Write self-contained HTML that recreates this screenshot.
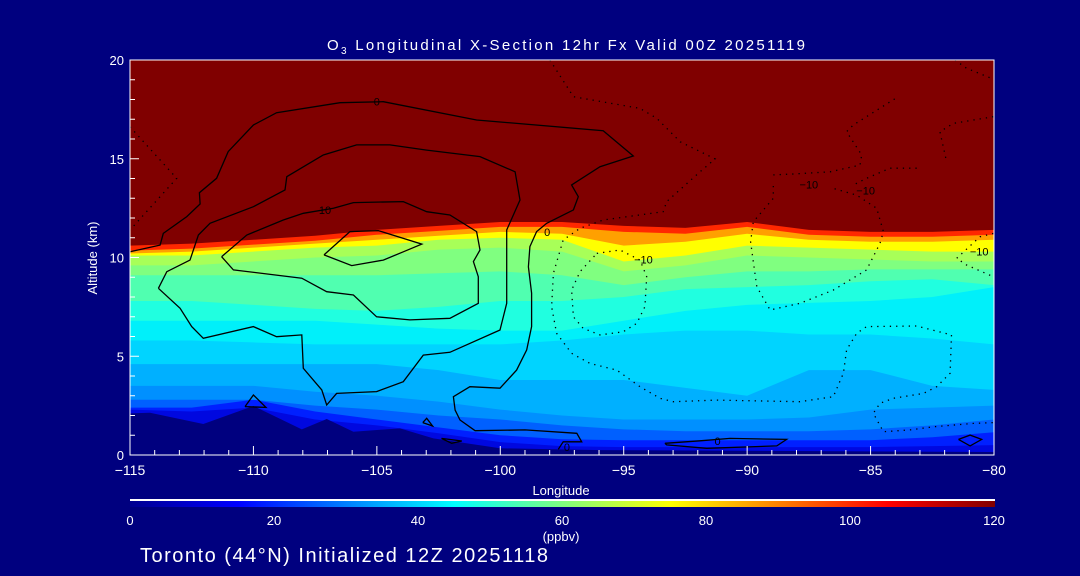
<!DOCTYPE html>
<html><head><meta charset="utf-8"><style>
html,body{margin:0;padding:0;background:#00007f;width:1080px;height:576px;overflow:hidden}
svg{display:block}
text{font-family:"Liberation Sans",sans-serif;fill:#fff}
</style></head><body>
<svg id="chart" width="1080" height="576" viewBox="0 0 1080 576" xmlns="http://www.w3.org/2000/svg">
<rect x="0" y="0" width="1080" height="576" fill="#00007f"/>
<text x="327" y="50" font-size="15" textLength="478" lengthAdjust="spacing">O<tspan font-size="10" dy="4">3</tspan><tspan dy="-4"> Longitudinal X-Section 12hr  Fx Valid 00Z 20251119</tspan></text>
<g id="plot"></g>
<g id="axes"></g>
<text x="561" y="495" font-size="13" text-anchor="middle">Longitude</text>
<text transform="translate(97,258) rotate(-90)" font-size="13" text-anchor="middle">Altitude (km)</text>
<defs><linearGradient id="jet" x1="0" x2="1" y1="0" y2="0">
<stop offset="0" stop-color="#00008f"/><stop offset="0.125" stop-color="#0000ff"/><stop offset="0.375" stop-color="#00ffff"/><stop offset="0.625" stop-color="#ffff00"/><stop offset="0.875" stop-color="#ff0000"/><stop offset="1" stop-color="#800000"/>
</linearGradient></defs>
<rect x="130" y="499" width="865" height="2" fill="#fff"/>
<rect x="130" y="501" width="865" height="6" fill="url(#jet)"/>
<g id="cbticks"></g>
<text x="561" y="541" font-size="13" text-anchor="middle">(ppbv)</text>
<text x="140" y="562" font-size="20" textLength="408" lengthAdjust="spacing">Toronto (44°N) Initialized 12Z 20251118</text>
</svg>
<script>
const lonGrid=[-115,-112.5,-110,-107.5,-105,-102.5,-100,-97.5,-95,-92.5,-90,-87.5,-85,-82.5,-80];
const levelValues=[20,25,30,35,40,45,50,55,60,65,70,80,90,110];
const levelColors=["#0020ff","#0060ff","#0090ff","#00b0ff","#00d4ff","#00f0fa","#20ffe0","#50ffb0","#80ff80","#a8ff58","#ffff00","#ffa000","#ff2800","#800000"];
const h20=[2.3,2.2,2.4,1.8,1.5,1.1,0.65,0.45,0.4,0.4,0.4,0.4,0.4,0.45,0.5];
const h25=[2.4,2.4,2.8,2.2,1.8,1.4,1.0,0.8,0.75,0.75,0.75,0.75,0.75,0.9,1.15];
const h30=[2.8,2.8,2.8,2.5,2.3,2.0,1.8,1.5,1.3,1.2,1.2,1.2,1.3,1.5,1.8];
const h35=[3.5,3.5,3.5,3.2,3.0,2.7,2.3,2.0,1.8,1.8,1.8,1.9,2.3,2.4,2.5];
const h40=[4.6,4.6,4.6,4.6,4.6,4.3,3.8,3.8,3.8,3.4,3.0,4.3,4.3,3.5,3.3];
const h45=[5.8,5.8,5.7,5.6,5.6,5.6,5.6,5.8,6.1,6.3,6.3,6.1,6.1,5.9,5.6];
const h50=[6.8,6.8,6.8,6.8,6.6,6.4,6.3,6.3,6.8,7.3,7.6,7.7,7.8,8.0,8.5];
const h55=[7.8,7.8,7.6,7.4,7.3,7.5,7.8,7.8,8.0,8.4,8.5,8.6,8.8,8.9,8.6];
const h60=[9.1,9.1,9.1,9.1,9.1,9.2,9.3,9.1,8.6,9.0,9.3,9.3,9.4,9.4,9.4];
const h65=[9.6,9.6,9.8,10.0,10.1,10.4,10.5,10.3,9.3,9.6,10.1,10.0,9.9,9.8,9.8];
const h70=[10.1,10.1,10.3,10.5,10.6,10.9,11.0,10.9,9.8,10.1,10.6,10.5,10.4,10.3,10.3];
const h80=[10.2,10.3,10.5,10.7,10.9,11.1,11.3,11.2,10.6,10.8,11.2,10.9,10.8,10.8,10.9];
const h90=[10.35,10.45,10.65,10.85,11.15,11.35,11.55,11.55,11.3,11.2,11.55,11.15,11.05,11.05,11.15];
const h110=[10.6,10.7,10.9,11.1,11.4,11.6,11.8,11.8,11.6,11.5,11.8,11.4,11.3,11.3,11.4];
const levelHeights=[h20,h25,h30,h35,h40,h45,h50,h55,h60,h65,h70,h80,h90,h110];
const terrainLon=[-115,-114.19,-112.03,-110.0,-108.04,-107.03,-105.95,-104.06,-102.71,-100.01,-95.96,-80];
const terrainAlt=[2.11,2.14,1.57,2.48,1.30,1.82,1.18,1.35,0.84,0.34,0.25,0.15];
const contour0Outer=[[-115,10.29],[-113.78,10.63],[-113.65,11.22],[-112.7,12.07],[-112.16,12.71],[-112.19,13.28],[-111.49,14.01],[-111.02,15.36],[-110.0,16.71],[-109.06,17.33],[-106.49,17.84],[-104.74,17.89],[-100.96,16.96],[-95.83,16.42],[-94.61,15.14],[-95.96,14.6],[-97.11,13.67],[-96.84,13.08],[-97.04,12.41],[-98.12,11.73],[-98.53,11.31],[-98.8,10.55],[-98.86,9.53],[-98.73,8.19],[-98.73,6.5],[-98.93,5.32],[-99.34,4.3],[-100.01,3.38],[-101.23,3.46],[-101.9,2.95],[-101.83,2.28],[-101.63,1.77],[-101.02,1.23],[-99.0,1.27],[-96.9,1.1],[-96.7,0.67],[-97.45,0.67],[-97.58,0.42],[-97.65,0.29]];
const contour5=[[-113.85,8.44],[-112.97,7.43],[-112.5,6.5],[-112.03,5.91],[-110.0,6.5],[-109.06,5.99],[-108.04,6.08],[-107.98,4.39],[-107.23,3.29],[-107.03,2.53],[-106.63,3.12],[-105.01,3.21],[-103.93,3.71],[-103.12,5.06],[-102.04,5.2],[-100.01,6.33],[-99.74,7.68],[-99.74,11.39],[-99.2,12.91],[-99.4,14.34],[-100.82,15.11],[-102.98,15.44],[-104.47,15.7],[-105.82,15.7],[-107.17,15.19],[-108.65,14.09],[-108.72,13.42],[-110.0,12.57],[-111.76,11.73],[-112.23,11.14],[-112.57,9.87],[-113.51,9.28],[-113.85,8.44]];
const contour10=[[-111.29,10.04],[-110.81,9.37],[-108.04,8.95],[-107.03,8.27],[-105.95,8.1],[-105.01,7.0],[-103.66,6.84],[-102.04,6.92],[-100.89,7.68],[-100.89,9.03],[-101.09,9.79],[-100.82,10.38],[-100.96,11.31],[-102.04,12.15],[-102.98,12.32],[-103.93,12.83],[-105.95,12.78],[-106.76,12.49],[-107.98,12.24],[-108.79,11.9],[-110.27,11.14],[-111.29,10.04]];
const contour20=[[-107.14,10.13],[-106.09,11.31],[-104.94,11.36],[-103.18,10.68],[-103.93,10.29],[-104.74,9.87],[-106.02,9.59],[-107.14,10.13]];
const loopA=[[-110.34,2.45],[-110.0,3.04],[-109.49,2.41],[-110.34,2.45]];
const loopB=[[-103.14,1.64],[-102.98,1.86],[-102.74,1.47],[-103.14,1.64]];
const loopC=[[-102.38,0.84],[-101.56,0.71],[-101.97,0.59],[-102.38,0.84]];
const loopD=[[-93.33,0.59],[-91.91,0.72],[-90.69,0.84],[-88.4,0.79],[-88.8,0.46],[-91.64,0.34],[-93.26,0.51],[-93.33,0.59]];
const loopE=[[-81.44,0.79],[-80.97,1.01],[-80.5,0.79],[-80.97,0.46],[-81.44,0.79]];
const dotA=[[-97.99,20],[-97.04,18.14],[-94.34,17.55],[-93.66,17.05],[-92.71,15.86],[-91.3,14.99],[-91.91,14.34],[-93.26,12.83],[-93.4,12.32],[-95.83,11.9],[-96.77,11.48],[-97.45,10.89],[-97.85,9.2],[-97.92,7.51],[-97.72,6.16],[-97.11,5.15],[-96.37,4.64],[-95.28,4.3],[-94.34,3.46],[-93.53,2.87],[-92.99,2.7],[-91.24,2.78],[-87.86,2.7],[-86.51,2.95],[-86.1,4.14],[-85.97,5.32],[-85.56,6.16],[-85.16,6.5],[-83.13,6.53],[-81.72,6.08],[-81.78,4.14],[-82.32,3.46],[-82.86,3.12],[-84.08,2.87],[-84.62,2.62],[-84.89,2.11],[-84.48,1.18],[-83.4,1.27],[-82.46,1.43],[-80.84,1.6],[-80.03,1.64]];
const dotB=[[-96.09,10.21],[-95.15,10.38],[-94.34,9.87],[-94.07,9.03],[-94.14,7.51],[-94.47,6.67],[-95.02,6.24],[-95.96,6.08],[-96.64,6.41],[-97.04,7.0],[-97.11,8.35],[-96.77,9.28],[-96.09,10.21]];
const dotC=[[-88.94,13.62],[-88.94,13.0],[-89.75,11.81],[-89.86,10.8],[-89.75,9.79],[-89.61,8.52],[-89.07,7.34],[-87.86,7.68],[-86.51,8.35],[-85.16,9.37],[-84.62,10.72],[-84.48,11.31],[-84.75,12.49],[-85.56,13.16],[-86.51,13.5]];
const dotD=[[-88.94,14.18],[-88.13,14.23],[-86.64,14.34],[-85.43,14.68],[-85.36,15.19],[-85.97,16.37],[-85.7,16.71],[-83.88,18.14]];
const dotE=[[-81.58,20],[-81.11,19.58],[-80.1,19.07]];
const dotF=[[-80.03,17.13],[-81.65,16.79],[-82.19,16.37],[-81.92,14.85]];
const dotG=[[-83.13,14.52],[-84.21,14.52],[-85.16,14.01],[-85.7,13.67]];
const dotH=[[-80.03,11.22],[-80.57,11.05],[-81.51,9.96],[-81.11,9.62],[-80.03,9.03]];
const dotI=[[-115,16.62],[-113.11,14.01],[-115,11.39]];
const contourLabels=[["0",-105,17.9],["10",-107.1,12.4],["0",-98.1,11.3],["0",-97.3,0.4],["0",-91.2,0.72],["−10",-94.2,9.9],["−10",-87.5,13.7],["−10",-85.2,13.4],["−10",-80.6,10.3]];
const xTicks=[-115,-110,-105,-100,-95,-90,-85,-80];
const xTickLabels=["−115","−110","−105","−100","−95","−90","−85","−80"];
const yTicks=[0,5,10,15,20];
const yTickLabels=["0","5","10","15","20"];
const cbTicks=[0,20,40,60,80,100,120];

const X0=130,X1=994,Y0=455,Y1=60;
const xs=l=>X0+(l+115)/35*(X1-X0);
const ys=a=>Y0-a/20*(Y0-Y1);
const NS="http://www.w3.org/2000/svg";
const plot=document.getElementById('plot');
function mk(tag,attrs,parent){const e=document.createElementNS(NS,tag);for(const k in attrs)e.setAttribute(k,attrs[k]);parent.appendChild(e);return e;}

const bg=mk('rect',{x:X0,y:Y1,width:X1-X0,height:Y0-Y1,fill:"#0008e0"},plot);


levelHeights.forEach((h,i)=>{
  let pts=lonGrid.map((l,j)=>xs(l)+","+ys(h[j])).join(" ");
  pts+=" "+xs(-80)+","+ys(20)+" "+xs(-115)+","+ys(20);
  const p=mk('polygon',{points:pts,fill:levelColors[i]},plot);
  
  
});
let tp=terrainLon.map((l,j)=>xs(l)+","+ys(terrainAlt[j])).join(" ")+" "+xs(-80)+","+Y0+" "+xs(-115)+","+Y0;
const terr=mk('polygon',{points:tp,fill:"#00007f"},plot);



function line(arr,name,dotted){
  const d=arr.map((p,i)=>(i?"L":"M")+xs(p[0]).toFixed(1)+","+ys(p[1]).toFixed(1)).join("");
  const a={d:d,fill:"none",stroke:"#000","stroke-width":1.3};
  if(dotted){a["stroke-dasharray"]="1.3,5";}
  const e=mk('path',a,plot);
  
  
}
line(contour0Outer,'contour-0-outer');
line(contour5,'contour-5');
line(contour10,'contour-10');
line(contour20,'contour-20');
line(loopA,'contour-loop-a');line(loopB,'contour-loop-b');line(loopC,'contour-loop-c');line(loopD,'contour-loop-d');line(loopE,'contour-loop-e');
line(dotA,'contour-neg-a',1);line(dotB,'contour-neg-b',1);line(dotC,'contour-neg-c',1);line(dotD,'contour-neg-d',1);
line(dotE,'contour-neg-e',1);line(dotF,'contour-neg-f',1);line(dotG,'contour-neg-g',1);line(dotH,'contour-neg-h',1);line(dotI,'contour-neg-i',1);
contourLabels.forEach(c=>{
  const t=mk('text',{x:xs(c[1]),y:ys(c[2])+4,"font-size":11,"text-anchor":"middle",style:"fill:#000"},plot);
  t.textContent=c[0];
  
  
});

const axes=document.getElementById('axes');
const fr=mk('rect',{x:X0,y:Y1,width:X1-X0,height:Y0-Y1,fill:"none",stroke:"#fff","stroke-width":1},axes);


for(let l=-115;l<=-80;l++){
  const major=(l%5===0);
  const tk=mk('line',{x1:xs(l),x2:xs(l),y1:Y0,y2:Y0-(major?9:5),stroke:"#fff"},axes);
  
  
}
xTicks.forEach((v,i)=>{
  const t=mk('text',{x:xs(v),y:Y0+20,"font-size":14,"text-anchor":"middle"},axes);
  t.textContent=xTickLabels[i];
  
  
});
for(let a=0;a<=20;a++){
  const major=(a%5===0);
  const tk=mk('line',{x1:X0,x2:X0+(major?9:5),y1:ys(a),y2:ys(a),stroke:"#fff"},axes);
  
  
}
yTicks.forEach((v,i)=>{
  const t=mk('text',{x:X0-6,y:ys(v)+5,"font-size":13,"text-anchor":"end"},axes);
  t.textContent=yTickLabels[i];
  
  
});
const cb=document.getElementById('cbticks');
cbTicks.forEach(v=>{
  const t=mk('text',{x:130+v/120*864,y:525,"font-size":13,"text-anchor":"middle"},cb);
  t.textContent=String(v);
  
  
});
</script>
</body></html>
